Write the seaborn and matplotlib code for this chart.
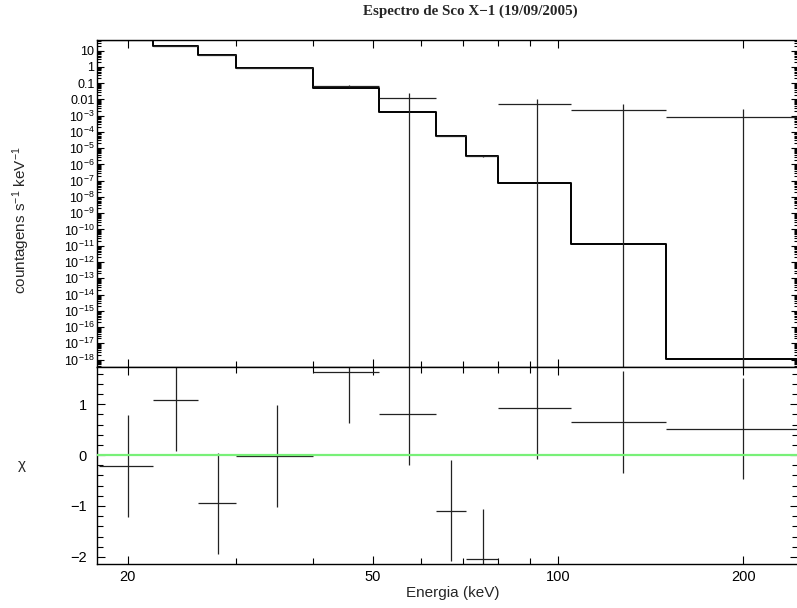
import numpy as np
import pandas as pd
import matplotlib
matplotlib.use("Agg")
import matplotlib.pyplot as plt
import seaborn as sns
from matplotlib.ticker import FixedLocator, FuncFormatter, NullFormatter, MultipleLocator, LogLocator

# ---- data ----
bin_lo = [18, 22, 26, 30, 40, 51.3, 63.3, 71, 80, 105, 150]
bin_hi = [22, 26, 30, 40, 51.3, 63.3, 71, 80, 105, 150, 250]
energy = [20, 24, 28, 35, 45.7, 57.3, 67.1, 75.5, 92.5, 127.5, 200]
rate = [43.8, 19.8, 5.6, 0.86, 0.068, 0.0124, 5.5e-5, 3.2e-6, 0.0053, 0.0021, 8.5e-4]
rate_err = [1.0, 0.4, 0.1, 0.02, 0.0117, 0.0139, 2.5e-6, 1.5e-7, 0.0058, 0.0032, 0.0016]
model = [44, 19.4, 5.7, 0.86, 0.049, 0.00179, 5.75e-5, 3.5e-6, 6.8e-8, 1.35e-11, 1.1e-18]
chi = [-0.22, 1.08, -0.95, -0.02, 1.63, 0.81, -1.09, -2.05, 0.915, 0.645, 0.52]
chi_err = [1, 1, 1, 1, 1, 1, 1, 1, 1, 1, 1]
x_major = [20, 50, 100, 200]
x_minor = [30, 40, 60, 70, 80, 90]
chi_major = [-2, -1, 0, 1]

sns.set_theme(style="ticks")
plt.rcParams["font.family"] = ["Liberation Sans", "DejaVu Sans"]
plt.rcParams["mathtext.fontset"] = "custom"
plt.rcParams["mathtext.rm"] = "Liberation Sans"
plt.rcParams["mathtext.it"] = "Liberation Sans:italic"
plt.rcParams["mathtext.bf"] = "Liberation Sans:bold"
plt.rcParams["axes.edgecolor"] = "black"
plt.rcParams["axes.linewidth"] = 1.0
plt.rcParams["xtick.color"] = "black"
plt.rcParams["ytick.color"] = "black"

W, H = 797, 608
fig = plt.figure(figsize=(W / 100, H / 100), dpi=100)


def rect(l, t, r, b):
    return [l / W, 1 - b / H, (r - l) / W, (b - t) / H]


ax1 = fig.add_axes(rect(96.5, 40, 798, 367))
ax2 = fig.add_axes(rect(96.5, 367, 798, 564), sharex=ax1)

e = np.array(energy)
xerr = [e - np.array(bin_lo), np.array(bin_hi) - e]

# ---- top panel ----
ax1.set_xscale("log")
ax1.set_yscale("log", nonpositive="clip")
step_df = pd.DataFrame({"E": bin_lo + [bin_hi[-1]], "m": model + [model[-1]]})
sns.lineplot(data=step_df, x="E", y="m", ax=ax1, color="black", lw=1.4,
             drawstyle="steps-post", estimator=None, sort=False, legend=False)
ax1.errorbar(energy, rate, xerr=xerr, yerr=rate_err, fmt="none",
             ecolor="#222222", elinewidth=0.9, capsize=0)
ax1.set_xlim(17.8, 245.5)
ax1.set_ylim(3.5e-19, 45)
ax1.set_xlabel("")
ax1.set_ylabel("")


def top_fmt(v, pos):
    k = int(round(np.log10(v)))
    if k >= -2:
        return f"{v:g}"
    return r"$\mathregular{10^{%d}}$" % k


ax1.yaxis.set_major_locator(FixedLocator([10.0 ** k for k in range(-18, 2)]))
ax1.yaxis.set_major_formatter(FuncFormatter(top_fmt))
ax1.yaxis.set_minor_locator(LogLocator(base=10, subs=np.arange(2, 10), numticks=200))
ax1.yaxis.set_minor_formatter(NullFormatter())
ax1.tick_params(axis="both", which="both", direction="in", top=True, right=True,
                labelbottom=False, width=0.8)
ax1.tick_params(axis="y", which="major", length=5, labelsize=9, pad=1.5)
ax1.tick_params(axis="y", which="minor", length=3)
ax1.tick_params(axis="x", which="major", length=6)
ax1.tick_params(axis="x", which="minor", length=4)

# ---- residual panel ----
ax2.errorbar(energy, chi, xerr=xerr, yerr=chi_err, fmt="none",
             ecolor="#222222", elinewidth=0.9, capsize=0, zorder=2)
ax2.axhline(0, color="#78f078", lw=1.6, zorder=3)
ax2.set_ylim(-2.14, 1.73)
ax2.xaxis.set_major_locator(FixedLocator(x_major))
ax2.xaxis.set_minor_locator(FixedLocator(x_minor))
ax2.xaxis.set_major_formatter(FuncFormatter(lambda v, p: f"{v:g}"))
ax2.xaxis.set_minor_formatter(NullFormatter())
ax2.yaxis.set_major_locator(FixedLocator(chi_major))
ax2.yaxis.set_minor_locator(MultipleLocator(0.2))
ax2.tick_params(axis="both", which="both", direction="in", top=True, right=True, width=0.8)
ax2.tick_params(axis="both", which="major", length=6, labelsize=10.5)
ax2.tick_params(axis="both", which="minor", length=4)
ax2.tick_params(axis="y", which="major", pad=7)
ax2.tick_params(axis="x", which="major", pad=4)
ax2.set_xlabel("")
ax2.set_ylabel("")

# ---- text ----
fig.text(470.5 / W, 1 - 11 / H, "Espectro de Sco X\u22121 (19/09/2005)",
         ha="center", va="center", fontsize=10.8, fontweight="bold",
         family=["Liberation Serif", "DejaVu Serif"])
fig.text(21.7 / W, 1 - 220 / H, r"countagens s$^{-1}$ keV$^{-1}$", rotation=90,
         ha="center", va="center", fontsize=11)
fig.text(22 / W, 1 - 465 / H, "\u03c7", ha="center", va="center", fontsize=11)
fig.text(453 / W, 1 - 593 / H, "Energia (keV)", ha="center", va="center", fontsize=11)

fig.savefig("out.png", dpi=100)
